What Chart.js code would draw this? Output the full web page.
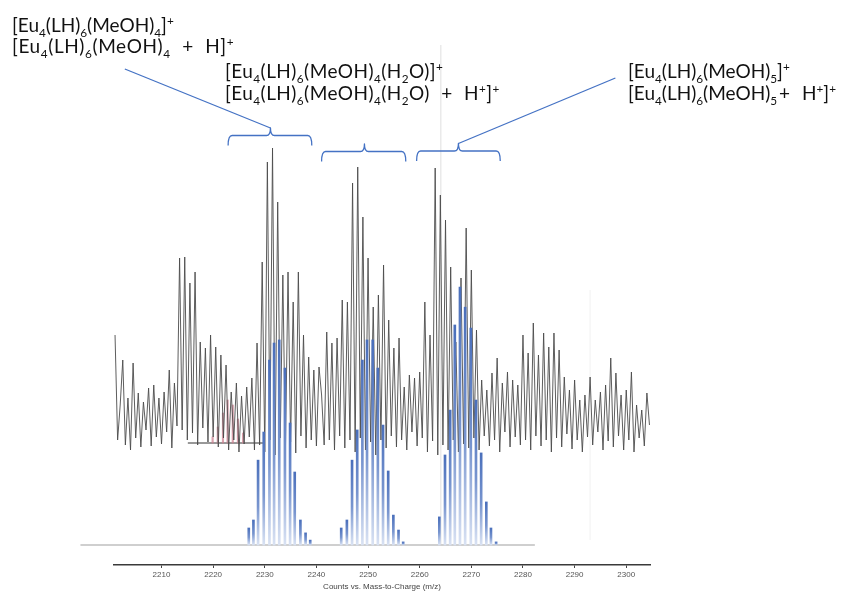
<!DOCTYPE html>
<html>
<head>
<meta charset="utf-8">
<script src="https://cdn.jsdelivr.net/npm/chart.js@4.4.1/dist/chart.umd.min.js"></script>
<style>
  html, body { margin: 0; padding: 0; background: #fff; }
  #wrap { position: relative; width: 856px; height: 594px; }
  #ms { position: absolute; left: 0; top: 0; }
  .lbl { position: absolute; font-family: Lato, "Open Sans", sans-serif; font-size: 19px; line-height: 21.5px; color: #111; white-space: nowrap; }
  .lbl .b { font-size: 0.62em; vertical-align: -5px; line-height: 0; }
  .lbl .p { font-size: 0.62em; vertical-align: 7px; line-height: 0; }
  .lbl .op { margin: 0 6px; }
  .lbl .op2 { margin: 0 7px 0 2px; }
  .wide { letter-spacing: 0.45px; }
  .wider { letter-spacing: 0.6px; }
</style>
</head>
<body>
<div id="wrap">
  <canvas id="ms" width="856" height="594"></canvas>
  <div class="lbl" style="left:12px; top:13.6px">[Eu<span class="b">4</span>(LH)<span class="b">6</span>(MeOH)<span class="b">4</span>]<span class="p">+</span><br><span class="wider">[Eu<span class="b">4</span>(LH)<span class="b">6</span>(MeOH)<span class="b">4</span> <span class="op">+</span> H]<span class="p">+</span></span></div>
  <div class="lbl wide" style="left:225px; top:60.2px">[Eu<span class="b">4</span>(LH)<span class="b">6</span>(MeOH)<span class="b">4</span>(H<span class="b">2</span>O)]<span class="p">+</span><br>[Eu<span class="b">4</span>(LH)<span class="b">6</span>(MeOH)<span class="b">4</span>(H<span class="b">2</span>O) <span class="op">+</span> H<span class="p">+</span>]<span class="p">+</span></div>
  <div class="lbl" style="left:628px; top:60.2px">[Eu<span class="b">4</span>(LH)<span class="b">6</span>(MeOH)<span class="b">5</span>]<span class="p">+</span><br>[Eu<span class="b">4</span>(LH)<span class="b">6</span>(MeOH)<span class="b">5</span><span class="op2">+</span> H<span class="p">+</span>]<span class="p">+</span></div>
</div>
<script>
// x axis (m/z)
const mzMin = 2200.8;
const mzMax = 2304.6;
const tickValues = [2210, 2220, 2230, 2240, 2250, 2260, 2270, 2280, 2290, 2300];

// measured spectrum: one reading every 0.5 m/z from 2201.0
const expStart = 2201.0;
const expStep = 0.5;
const expCounts = [
  230,125,160,205,120,167,115,202,127,172,118,163,135,177,119,180,128,167,121,173,133,195,117,182,
  139,307,135,308,125,282,132,293,120,223,137,217,123,230,128,218,118,210,127,200,115,173,125,182,
  113,169,121,178,128,187,115,222,120,303,113,403,125,417,110,363,127,290,115,293,123,263,112,293,
  129,230,117,208,125,195,119,198,170,120,233,125,222,115,227,129,265,117,263,125,382,113,398,127,
  348,115,307,123,258,110,270,125,300,117,245,129,217,118,227,125,178,115,190,133,187,119,193,127,
  263,113,230,124,397,110,370,120,345,115,298,125,223,113,287,121,337,117,295,127,235,115,185,129,
  175,119,192,125,207,113,182,133,193,118,185,128,180,120,230,125,212,115,242,129,210,119,232,125,
  218,113,232,127,215,118,188,131,175,116,185,125,165,113,170,128,188,120,165,133,173,115,180,124,
  207,118,192,129,170,115,175,125,193,113,160,127,155,119,172,140
];

// simulated isotope patterns (relative abundance %)
const sim1Mz = [2226.9, 2227.8, 2228.7, 2229.8, 2230.9, 2231.8, 2232.8, 2233.9, 2234.9, 2235.8, 2236.9, 2237.9, 2238.8];
const sim1Ab = [6.6, 9.7, 32.9, 43.8, 71.7, 78.3, 79.5, 68.6, 47.3, 28.3, 9.7, 4.7, 1.9];
const sim2Mz = [2244.8, 2245.9, 2246.9, 2247.9, 2248.9, 2249.8, 2250.9, 2251.9, 2252.9, 2253.9, 2254.9, 2255.9, 2256.8];
const sim2Ab = [6.6, 9.7, 32.9, 44.6, 71.7, 79.5, 79.5, 68.6, 46.5, 28.7, 11.6, 5.8, 1.2];
const sim3Mz = [2263.8, 2264.9, 2265.9, 2266.8, 2267.8, 2268.8, 2269.9, 2270.9, 2271.9, 2272.9, 2273.8, 2274.8];
const sim3Ab = [10.9, 34.9, 52.3, 85.3, 100, 92.2, 84.1, 56.2, 35.7, 16.7, 6.6, 1.2];
const simBaseMz = [2194.3, 2282.3];

// leftover overlay (pink pattern on a black bar)
const pinkMz = [2219.9, 2220.9, 2221.9, 2222.8, 2223.8, 2224.8, 2225.8];
const pinkTop = [128, 138, 152, 165, 160, 146, 132];
const pinkBase = 122;
const barMz = [2215.1, 2230.0];

// faint vertical guides
const guideMz = [2264.1, 2293.0];
const guideFrom = [20, 25];
const guideTo = [520, 275];

// brackets and leader lines
const braceLeft = [2222.9, 2241.0, 2259.4];
const braceRight = [2239.1, 2257.3, 2275.6];
const braceMid = [2231.1, 2249.3, 2267.5];
const braceLevel = [429.5, 413.5, 414];
const leaderMz = [2202.9, null, 2297.9];
const leaderCounts = [496, null, 487];

const braceBlue = '#4472c4';

const expData = expCounts.map(function (c, i) {
  return { x: expStart + i * expStep, y: c };
});

function sticks(mz, ab) {
  return mz.map(function (m, i) { return { x: m, y: ab[i] }; });
}
const simData = sticks(sim1Mz, sim1Ab).concat(sticks(sim2Mz, sim2Ab), sticks(sim3Mz, sim3Ab));

const pinkData = pinkMz.map(function (m, i) { return { x: m, y: [pinkBase, pinkTop[i]] }; });

function stickFill(ctx) {
  const chart = ctx.chart;
  const ys = chart.scales.ySim;
  if (!ys || !ctx.raw) return braceBlue;
  const top = ys.getPixelForValue(ctx.raw.y);
  const base = ys.getPixelForValue(0);
  if (!(base > top)) return braceBlue;
  const g = chart.ctx.createLinearGradient(0, top, 0, base);
  g.addColorStop(0, '#4a6fbb');
  g.addColorStop(0.55, '#7895cf');
  g.addColorStop(1, '#d9e2f3');
  return g;
}

const datasets = [
  {
    type: 'bar', label: 'simulated', data: simData, yAxisID: 'ySim',
    backgroundColor: stickFill, barThickness: 2, grouped: false, order: 0
  },
  {
    type: 'line', label: 'measured', data: expData, yAxisID: 'yExp',
    borderColor: 'rgba(75,75,75,0.9)', borderWidth: 1, pointRadius: 0, order: 1
  },
  {
    type: 'line', label: 'sim baseline', yAxisID: 'ySim',
    data: simBaseMz.map(function (m) { return { x: m, y: 0 }; }),
    borderColor: '#cfcfcf', borderWidth: 2, pointRadius: 0, clip: false, order: 3
  },
  {
    type: 'bar', label: 'overlay', data: pinkData, yAxisID: 'yExp',
    backgroundColor: 'rgba(205,130,145,0.75)', barThickness: 1.5, grouped: false, order: 2
  },
  {
    type: 'line', label: 'overlay bar', yAxisID: 'yExp',
    data: barMz.map(function (m) { return { x: m, y: pinkBase }; }),
    borderColor: '#333', borderWidth: 1, pointRadius: 0, order: 2
  }
];

for (let i = 0; i < guideMz.length; i++) {
  datasets.push({
    type: 'line', label: 'guide', yAxisID: 'yExp',
    data: [{ x: guideMz[i], y: guideFrom[i] }, { x: guideMz[i], y: guideTo[i] }],
    borderColor: i === 0 ? 'rgba(0,0,0,0.13)' : 'rgba(0,0,0,0.06)',
    borderWidth: 1, pointRadius: 0, order: 4
  });
}

const braceMarks = {
  id: 'braceMarks',
  afterDatasetsDraw: function (chart) {
    const xs = chart.scales.x, ys = chart.scales.yExp, c = chart.ctx;
    const hook = 10, tip = 7.5, rr = 4;
    c.save();
    c.strokeStyle = braceBlue;
    c.lineWidth = 1.3;
    c.lineJoin = 'round';
    for (let i = 0; i < braceLeft.length; i++) {
      const l = xs.getPixelForValue(braceLeft[i]);
      const r = xs.getPixelForValue(braceRight[i]);
      const m = xs.getPixelForValue(braceMid[i]);
      const py = ys.getPixelForValue(braceLevel[i]);
      c.beginPath();
      c.moveTo(l, py + hook);
      c.quadraticCurveTo(l, py, l + rr, py);
      c.lineTo(m - rr, py);
      c.quadraticCurveTo(m, py, m, py - tip);
      c.quadraticCurveTo(m, py, m + rr, py);
      c.lineTo(r - rr, py);
      c.quadraticCurveTo(r, py, r, py + hook);
      c.stroke();
      if (leaderMz[i] !== null) {
        c.beginPath();
        c.moveTo(m, py - tip);
        c.lineTo(xs.getPixelForValue(leaderMz[i]), ys.getPixelForValue(leaderCounts[i]));
        c.stroke();
      }
    }
    c.restore();
  }
};

Chart.defaults.font.family = '"Liberation Sans", Arial, sans-serif';

new Chart(document.getElementById('ms').getContext('2d'), {
  type: 'line',
  data: { datasets: datasets },
  options: {
    responsive: false,
    animation: false,
    events: [],
    layout: { padding: { left: 114, right: 206, top: 10, bottom: 2 } },
    plugins: { legend: { display: false }, tooltip: { enabled: false } },
    scales: {
      x: {
        type: 'linear', min: mzMin, max: mzMax, offset: false,
        afterBuildTicks: function (s) { s.ticks = tickValues.map(function (v) { return { value: v }; }); },
        afterFit: function (s) { s.height = 27; },
        ticks: {
          callback: function (v) { return String(v); },
          font: { size: 8 }, color: '#555', padding: 2, maxRotation: 0, autoSkip: false
        },
        grid: { display: true, drawOnChartArea: false, drawTicks: true, tickLength: 3, color: '#444', offset: false },
        border: { display: true, color: '#3a3a3a', width: 1.5 },
        title: { display: true, text: 'Counts vs. Mass-to-Charge (m/z)', font: { size: 8 }, color: '#444', padding: 0 }
      },
      yExp: { type: 'linear', display: false, min: 0, max: 555 },
      ySim: { type: 'linear', display: false, min: -7.75, max: 207.4 }
    }
  },
  plugins: [braceMarks]
});
</script>
</body>
</html>
